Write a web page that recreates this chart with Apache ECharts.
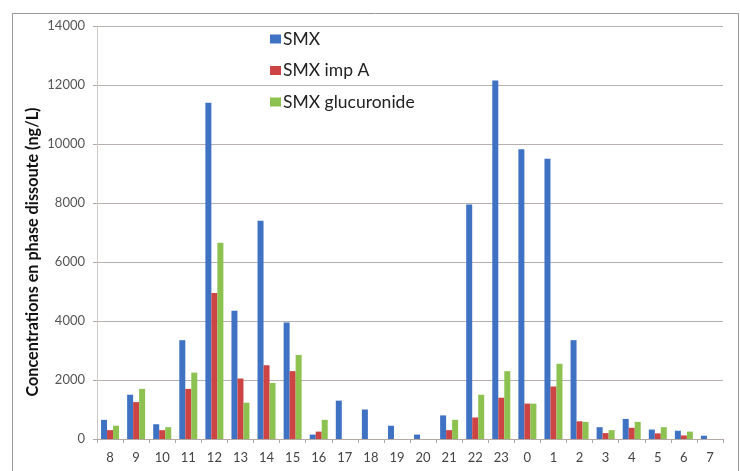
<!DOCTYPE html>
<html><head><meta charset="utf-8">
<script src="https://cdn.jsdelivr.net/npm/echarts@6/dist/echarts.min.js"></script>
<style>html,body{margin:0;padding:0;background:#fff}#c{width:740px;height:471px}</style>
</head><body><div id="c"></div>
<script>
const categories = ['8','9','10','11','12','13','14','15','16','17','18','19','20','21','22','23','0','1','2','3','4','5','6','7'];
const smx =        [650,1500,500,3350,11400,4350,7400,3950,150,1300,1000,450,150,800,7950,12150,9820,9500,3350,400,680,320,280,110];
const smxImpA =    [300,1250,300,1700,4950,2050,2500,2300,250,0,0,0,0,300,730,1400,1200,1780,600,200,380,190,120,0];
const smxGluc =    [450,1700,400,2250,6650,1230,1900,2850,650,0,0,0,0,650,1500,2300,1200,2550,580,300,580,400,250,0];
const yTicks = [0,2000,4000,6000,8000,10000,12000,14000];
const seriesNames = ['SMX','SMX imp A','SMX glucuronide'];
const colors = ['#3F72C2','#CC4444','#8DC150'];
const font = 'Lato, "Open Sans", sans-serif';

const chart = echarts.init(document.getElementById('c'));
const mk = (name, data, color) => ({
  name, type:'bar', data, barGap:0, barCategoryGap:'31%',
  itemStyle:{color}, animation:false
});
chart.setOption({
  animation:false,
  grid:{left:97,right:17,top:26,bottom:32,containLabel:false},
  legend:{
    orient:'vertical', left:265, top:25, itemGap:13.5, itemWidth:11, itemHeight:9,
    icon:'rect', data:seriesNames,
    textStyle:{fontFamily:font, fontSize:17.5, color:'#222', padding:[0,0,0,-3]}
  },
  xAxis:{
    type:'category', data:categories,
    axisLine:{lineStyle:{color:'#b3a8a4'}},
    axisTick:{show:true, length:4, lineStyle:{color:'#b3a8a4'}},
    axisLabel:{fontFamily:font, fontSize:13, color:'#444', margin:12}
  },
  yAxis:{
    type:'value', min:yTicks[0], max:yTicks[yTicks.length-1], interval:2000,
    axisLine:{show:true, lineStyle:{color:'#cfc8c6'}},
    axisTick:{show:true, length:4, lineStyle:{color:'#b3a8a4'}},
    splitLine:{lineStyle:{color:'#b8b0ae'}},
    axisLabel:{fontFamily:font, fontSize:13, color:'#555', margin:12, formatter:(v)=>String(v)}
  },
  graphic:[
    {type:'rect', left:10, top:11, shape:{width:726, height:480}, style:{fill:'none', stroke:'#999', lineWidth:1}, z:-1},
    {type:'text', x:33, y:252, rotation:Math.PI/2, style:{text:'Concentrations en phase dissoute (ng/L)', fontFamily:font, fontWeight:'bold', fontSize:16.2, fill:'#111', align:'center', verticalAlign:'middle'}}
  ],
  series:[mk(seriesNames[0], smx, colors[0]), mk(seriesNames[1], smxImpA, colors[1]), mk(seriesNames[2], smxGluc, colors[2])]
});
</script></body></html>
